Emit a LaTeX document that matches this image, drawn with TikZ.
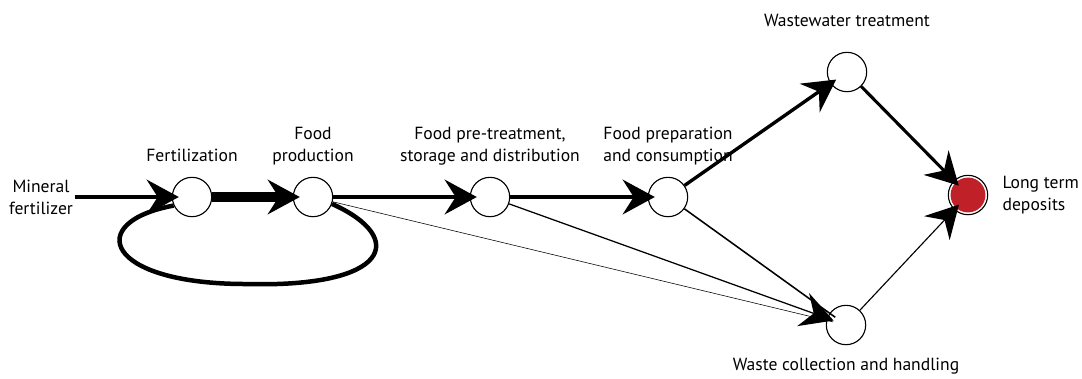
\documentclass[tikz,border=0pt]{standalone}
\usepackage{fontspec}
\setmainfont{PT Sans}
\usepackage{tikz}
\usetikzlibrary{positioning, arrows.meta}
\definecolor{deposit}{RGB}{192,32,40}

\begin{document}
\begin{tikzpicture}[x=0.025cm, y=-0.025cm,
    stage/.style={circle, draw, fill=white, line width=0.8pt, minimum size=28pt, inner sep=0pt},
    lbl/.style={font=\fontsize{12.5}{15.5}\selectfont, align=center, inner sep=1pt, text depth=0pt},
    flow/.style={-{Stealth[length=23pt, width=25pt, inset=8pt, line width=0pt]}, shorten >=-5pt}]
    \useasboundingbox (0,0) rectangle (1082,378);

    \node[stage] (fert) at (192,197) {};
    \node[stage] (prod) at (313,197) {};
    \node[stage] (pre) at (490,197) {};
    \node[stage] (prep) at (668,197) {};
    \node[stage] (ww) at (847,72) {};
    \node[stage] (waste) at (846,325) {};
    \node[stage] (lt) at (968,195) {};
    \fill[deposit] (lt) circle[radius=12.4pt];

    \node[lbl] (min) at (41,197) {Mineral\\fertilizer};
    \node[lbl, above=9.5pt of fert] {Fertilization};
    \node[lbl, above=9.5pt of prod] {Food\\production};
    \node[lbl, above=9.5pt of pre] {Food pre-treatment,\\storage and distribution};
    \node[lbl, above=9.5pt of prep] {Food preparation\\and consumption};
    \node[lbl, above=17pt of ww] {Wastewater treatment};
    \node[lbl, below=8pt of waste, text depth=] {Waste collection and handling};
    \node[lbl, right=9pt of lt, align=left, text depth=] {Long term\\deposits};

    \coordinate (loopbot) at (246,284);
    \draw[line width=3.2pt] (prod.-20) .. controls (408,238) and (390,288) .. (loopbot)
        .. controls (104,284) and (84,222) .. (fert.205);
    \draw[flow, line width=3.2pt] (min.east |- fert) -- (fert);
    \draw[flow, line width=7pt] (fert) -- (prod);
    \draw[flow, line width=3.2pt] (prod) -- (pre);
    \draw[flow, line width=2.6pt] (pre) -- (prep);
    \draw[flow, line width=2.4pt] (prep) -- (ww);
    \draw[flow, line width=2.2pt] (ww) -- (lt);
    \draw[line width=0.4pt, shorten >=-5pt] (prod) -- (waste);
    \draw[line width=1.1pt, shorten >=-5pt] (prep) -- (waste);
    \draw[flow, line width=0.9pt] (pre) -- (waste);
    \draw[flow, line width=0.8pt] (waste) -- (lt);
\end{tikzpicture}
\end{document}
